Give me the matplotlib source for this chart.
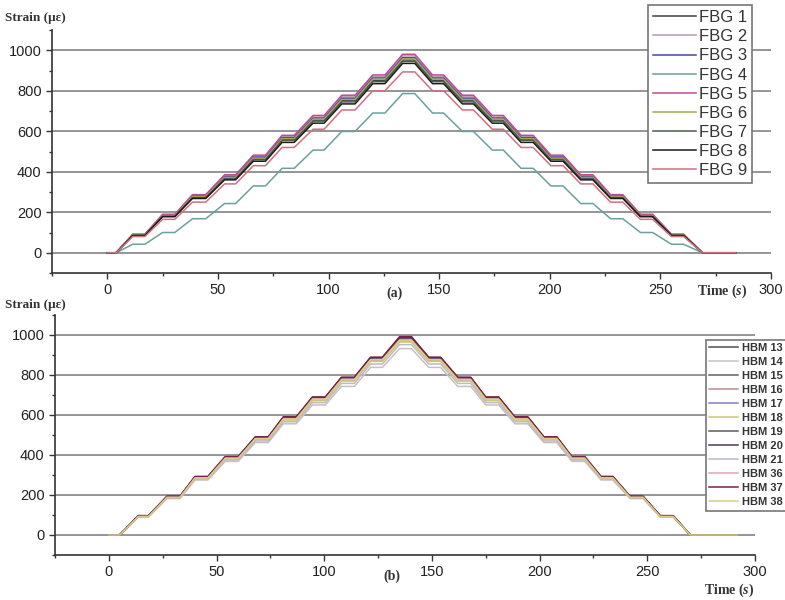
import matplotlib.pyplot as plt
from matplotlib.ticker import MultipleLocator

plt.rcParams["mathtext.fontset"] = "custom"
plt.rcParams["mathtext.it"] = "Liberation Serif:italic:bold"
plt.rcParams["mathtext.rm"] = "Liberation Serif:bold"

# 加载过程的台阶时间 (s)：每个台阶的 (开始, 结束)
fbg_start = 4
fbg_up = [(11.5, 17), (25, 30.5), (38.5, 44.5), (53, 58), (66, 71.5),
          (79, 84.5), (93, 98), (106, 112), (120, 125.5), (133.5, 139)]
fbg_down = [(147, 152), (160.5, 165.5), (174, 179), (187, 192.5), (200.5, 206),
            (214, 219.5), (227.5, 233), (241, 246.5), (255, 260.5)]
fbg_zero = 269
fbg_end = 284

hbm_start = 5
hbm_up = [(13.7, 18.4), (27, 33), (40, 46), (54, 60), (68, 74),
          (81, 87), (94.5, 100.5), (108, 114), (121.5, 127), (135, 140.5)]
hbm_down = [(148.5, 154), (162, 168), (175, 181), (188.5, 194.5), (202, 208),
            (215, 221), (228.5, 234), (242, 248), (256, 262)]
hbm_zero = 270
hbm_end = 292

# 各传感器每个台阶的应变 (με)
fbg_names = ["FBG 1", "FBG 2", "FBG 3", "FBG 4", "FBG 5", "FBG 6", "FBG 7", "FBG 8", "FBG 9"]
fbg_levels = [
    [87, 182, 275, 370, 465, 560, 655, 752, 852, 952],
    [90, 187, 283, 380, 476, 573, 670, 770, 870, 972],
    [89, 185, 280, 376, 472, 568, 665, 763, 863, 963],
    [42, 100, 168, 243, 330, 417, 507, 599, 690, 786],
    [92, 190, 287, 385, 482, 580, 678, 778, 878, 980],
    [88, 183, 277, 372, 467, 563, 660, 757, 857, 957],
    [86, 180, 272, 366, 460, 555, 650, 745, 845, 945],
    [85, 178, 268, 360, 452, 545, 640, 735, 835, 935],
    [80, 165, 250, 340, 430, 520, 610, 705, 800, 893],
]
fbg_colors = ["#404040", "#b898b8", "#4848b0", "#6aa0a0", "#c04898",
              "#a8a850", "#4c5c4c", "#1a1a1a", "#d07080"]

hbm_names = ["HBM 13", "HBM 14", "HBM 15", "HBM 16", "HBM 17", "HBM 18",
             "HBM 19", "HBM 20", "HBM 21", "HBM 36", "HBM 37", "HBM 38"]
hbm_levels = [
    [95, 192, 290, 388, 487, 587, 686, 784, 884, 985],
    [90, 182, 275, 368, 462, 556, 650, 743, 838, 932],
    [94, 190, 288, 385, 484, 583, 682, 780, 879, 978],
    [93, 188, 285, 382, 480, 578, 676, 773, 872, 970],
    [95, 191, 289, 387, 486, 585, 684, 782, 882, 982],
    [92, 187, 283, 380, 477, 575, 672, 770, 868, 965],
    [96, 193, 291, 390, 489, 589, 688, 787, 887, 988],
    [95, 192, 290, 388, 488, 588, 687, 786, 886, 986],
    [91, 185, 280, 375, 470, 566, 662, 758, 855, 952],
    [94, 190, 287, 385, 483, 582, 680, 778, 877, 975],
    [97, 194, 293, 392, 491, 591, 690, 789, 889, 992],
    [93, 189, 286, 384, 482, 580, 679, 777, 876, 973],
]
hbm_colors = ["#505050", "#c8c0c0", "#6a5a6a", "#c08890", "#8080c8", "#c8c870",
              "#5a5a5a", "#4a3a5a", "#c0b8c8", "#d8a8b0", "#7a2048", "#d8d080"]


def staircase(start, up, down, zero, end, levels):
    t = [0, start]
    v = [0, 0]
    for (a, b), lv in zip(up, levels):
        t += [a, b]
        v += [lv, lv]
    for (a, b), lv in zip(down, levels[-2::-1]):
        t += [a, b]
        v += [lv, lv]
    t += [zero, end]
    v += [0, 0]
    return t, v


def style_axes(ax):
    ax.set_xlim(-25, 300)
    ax.set_ylim(-100, 1100)
    ax.xaxis.set_major_locator(MultipleLocator(50))
    ax.xaxis.set_minor_locator(MultipleLocator(25))
    ax.yaxis.set_minor_locator(MultipleLocator(100))
    ax.set_yticks([0, 200, 400, 600, 800, 1000])
    ax.spines["top"].set_visible(False)
    ax.spines["right"].set_visible(False)
    for s in ["left", "bottom"]:
        ax.spines[s].set_color("#333333")
        ax.spines[s].set_linewidth(1.2)
    ax.tick_params(which="major", direction="out", length=4, width=1, colors="#333333",
                   labelsize=10.5, labelcolor="#222222")
    ax.tick_params(which="minor", direction="out", length=2.5, width=1, colors="#333333")
    for lab in ax.get_xticklabels() + ax.get_yticklabels():
        lab.set_family("Liberation Sans")
    ax.grid(axis="y", which="major", color="#8c8c8c", linewidth=1.3)
    ax.set_axisbelow(True)


fig = plt.figure(figsize=(7.85, 6), dpi=100)

# (a) FBG
ax1 = fig.add_axes([52 / 785, 1 - 273 / 600, (771 - 52) / 785, (273 - 30) / 600])
for name, lv, c in zip(fbg_names, fbg_levels, fbg_colors):
    t, v = staircase(fbg_start, fbg_up, fbg_down, fbg_zero, fbg_end, lv)
    ax1.plot(t, v, color=c, linewidth=1.1, label=name)
style_axes(ax1)
leg1 = ax1.legend(loc="upper left", bbox_to_anchor=(648 / 785, 1 - 5 / 600),
                  bbox_transform=fig.transFigure, borderaxespad=0,
                  prop={"family": "Liberation Sans", "size": 12}, labelspacing=0.25,
                  handlelength=2.6, handletextpad=0.15, borderpad=0.3,
                  fancybox=False, framealpha=1, edgecolor="#777777", labelcolor="#333333")
leg1.get_frame().set_linewidth(1.2)

# (b) HBM
ax2 = fig.add_axes([55 / 785, 1 - 555 / 600, (755 - 55) / 785, (555 - 315) / 600])
for name, lv, c in zip(hbm_names, hbm_levels, hbm_colors):
    t, v = staircase(hbm_start, hbm_up, hbm_down, hbm_zero, hbm_end, lv)
    ax2.plot(t, v, color=c, linewidth=1.1, label=name)
style_axes(ax2)
leg2 = ax2.legend(loc="upper left", bbox_to_anchor=(706 / 785, 1 - 340 / 600),
                  bbox_transform=fig.transFigure, borderaxespad=0,
                  prop={"family": "Liberation Sans", "size": 8, "weight": "bold"},
                  labelspacing=0.36, handlelength=2.6, handletextpad=0.3, borderpad=0.3,
                  fancybox=False, framealpha=1, edgecolor="#777777", labelcolor="#333333")
leg2.get_frame().set_linewidth(1.2)

# 文字标注
serif = {"family": "Liberation Serif", "weight": "bold", "color": "#333333"}
fig.text(5, 600 - 18, "Strain (με)", fontsize=9.5, va="center", transform=None, **serif)
fig.text(5, 600 - 305, "Strain (με)", fontsize=9.5, va="center", transform=None, **serif)
fig.text(697, 600 - 291, r"Time ($s$)", fontsize=10, va="center", transform=None, **serif)
fig.text(704, 600 - 590, r"Time ($s$)", fontsize=10, va="center", transform=None, **serif)
fig.text(386, 600 - 293, "(a)", fontsize=10, va="center", transform=None, **serif)
fig.text(383, 600 - 576, "(b)", fontsize=10, va="center", transform=None, **serif)

fig.savefig("out.png", dpi=100)
